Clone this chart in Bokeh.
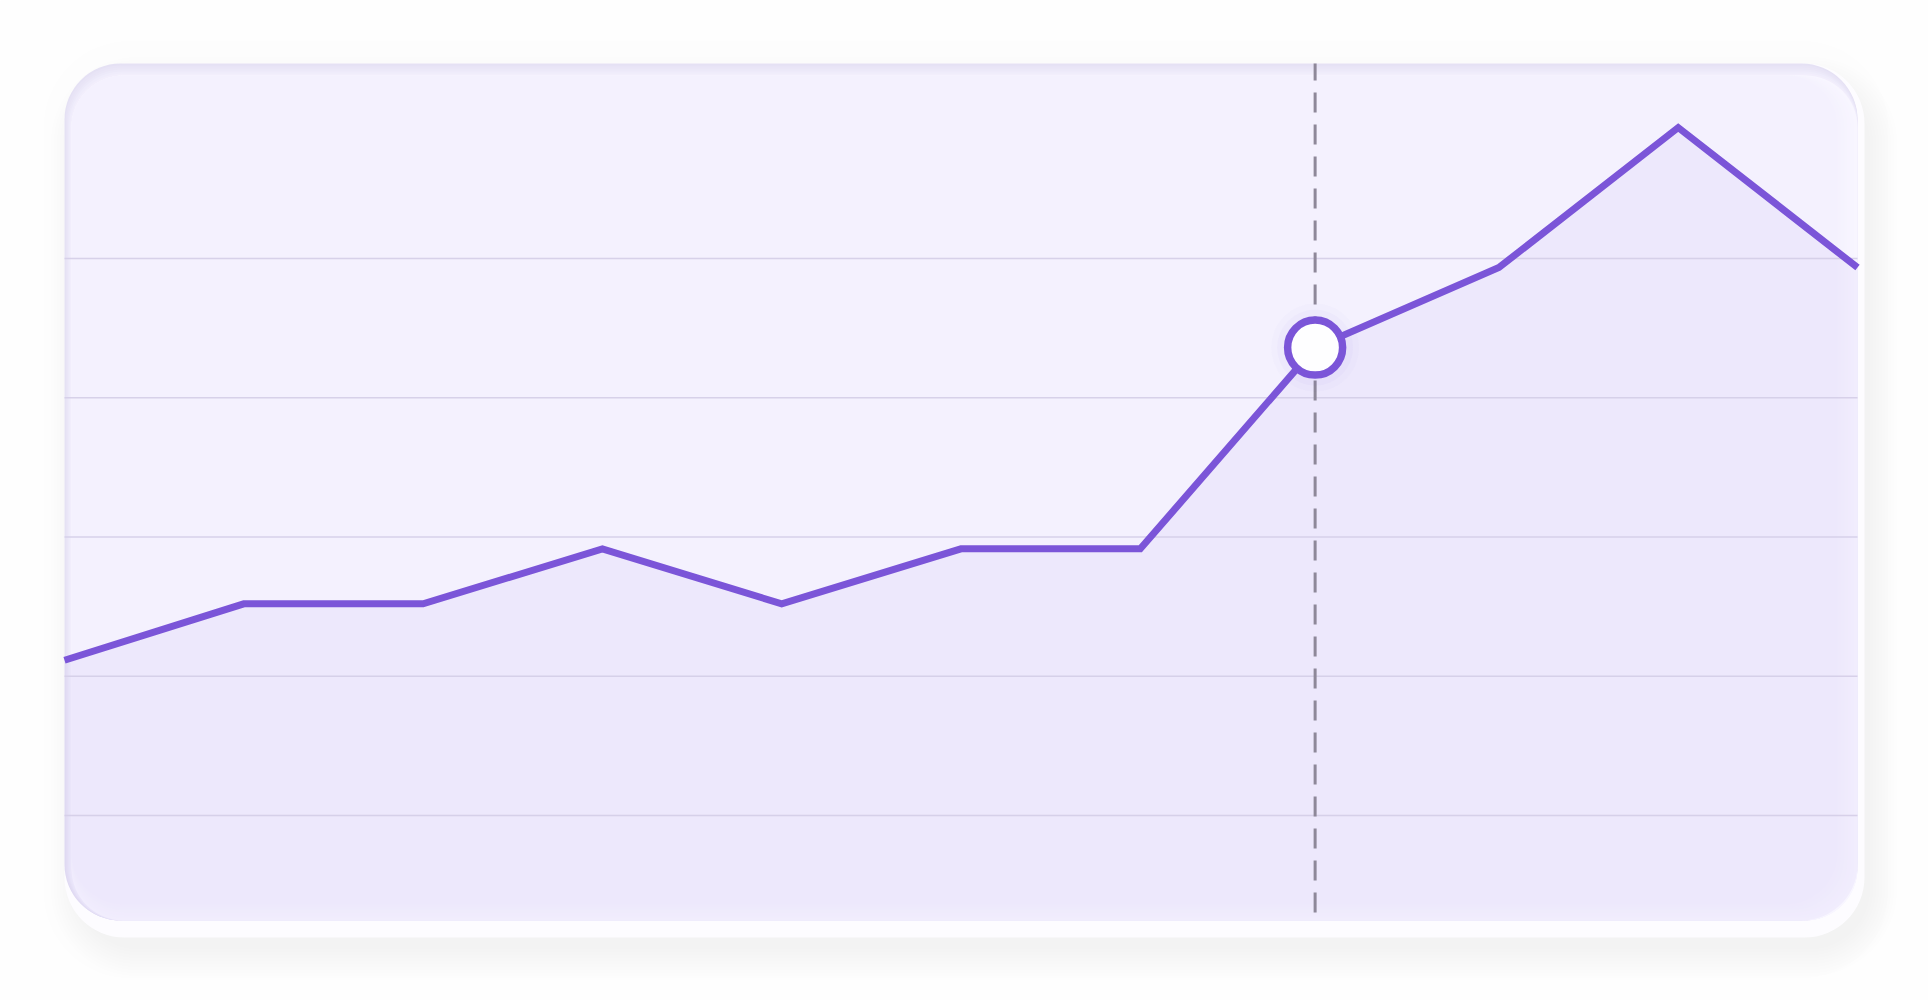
import numpy as np
from bokeh.plotting import figure
from bokeh.models import BoxAnnotation, Range1d
from bokeh.embed import file_html
from bokeh.resources import INLINE

# ---------------- data ----------------
x_vals = [0, 1, 2, 3, 4, 5, 6, 6.975, 8, 9, 10]
values = [42.3, 50.4, 50.4, 58.3, 50.4, 58.3, 58.3, 87.2, 98.7, 118.8, 98.7]
grid_values = [20, 40, 60, 80, 100]
highlight_index = 7

# ---------------- styling ----------------
LINE = "#7b55d8"
PAGE = "#fefefe"
CARD = "#fdfcff"
PANEL = (244, 241, 254)
EDGE_DARK = (229, 225, 244)
EDGE_LIGHT = (248, 246, 255)
GRID = "#d5cfe8"
DASH = "#8e8899"

W, H = 1928, 1000
KX = (1857 - 64) / 10.0
KY = (815 - 258) / 80.0
X0 = -64 / KX
X1 = X0 + W / KX
Y1 = 100 + 258 / KY
Y0 = Y1 - H / KY


def X(px):
    return X0 + px / KX


def Y(py):
    return Y1 - py / KY


def hexc(c):
    return "#%02x%02x%02x" % tuple(int(round(v)) for v in c)


def mix(a, b, t):
    return tuple(a[i] + (b[i] - a[i]) * t for i in range(3))


p = figure(width=W, height=H, x_range=Range1d(X0, X1), y_range=Range1d(Y0, Y1),
           output_backend="svg", toolbar_location=None, min_border=0,
           x_axis_location=None, y_axis_location=None)
p.grid.visible = False
p.outline_line_color = None
p.background_fill_color = PAGE
p.border_fill_color = PAGE


def rbox(l, t, r, b, color, alpha=1.0, radius=56):
    box = BoxAnnotation(left=X(l), right=X(r), top=Y(t), bottom=Y(b),
                        fill_color=color, fill_alpha=alpha, line_color=None,
                        border_radius=int(round(radius)), level="underlay")
    p.add_layout(box)
    return box


# panel geometry (page px)
PL, PT, PR, PB = 64, 63, 1857, 920
CL, CT, CR, CB = 64, 63, 1864, 937
RAD = 56

# faint outer halo
rbox(43, 40, 1888, 978, "#000000", 0.005, 86)
# drop shadow
for i in range(10):
    e = 3 * i
    rbox(CL + 13 - e, CT + 20 - e, CR + 6 + e, CB + 12 + e, "#000000", 0.0055, 60 + e)
# white card
rbox(CL, CT, CR, CB, CARD, 1.0, 60)

# panel with inset shading: top/left darker, bottom/right lighter
steps = 6
TB, LB, BB, RB = 12, 7, 16, 20
for i in range(steps):
    t = i / steps
    rbox(PL + LB * t, PT + TB * t, PR, PB, hexc(mix(EDGE_DARK, PANEL, t)), 1.0, RAD - 4 * t)
rbox(PL + LB, PT + TB, PR, PB, hexc(EDGE_LIGHT), 1.0, RAD - 4)
for i in range(1, steps + 1):
    t = i / steps
    rbox(PL + LB, PT + TB, PR - RB * t, PB - BB * t, hexc(mix(EDGE_LIGHT, PANEL, t)), 1.0, RAD - 4)

# ---------------- area under the line (rounded bottom corners) ----------------
xs = list(np.array(x_vals, dtype=float))
ys = list(np.array(values, dtype=float))
ang = np.linspace(0, np.pi / 2, 16)
cxp, cyp = PR - RAD, PB - RAD
arc_br_x = [X(cxp + RAD * np.cos(a)) for a in ang]
arc_br_y = [Y(cyp + RAD * np.sin(a)) for a in ang]
ang2 = np.linspace(np.pi / 2, np.pi, 16)
cxp2 = PL + RAD
arc_bl_x = [X(cxp2 + RAD * np.cos(a)) for a in ang2]
arc_bl_y = [Y(cyp + RAD * np.sin(a)) for a in ang2]
area_x = xs + arc_br_x + arc_bl_x
area_y = ys + arc_br_y + arc_bl_y
p.patch(area_x, area_y, fill_color=LINE, fill_alpha=0.055, line_color=None)

# grid lines
p.segment(x0=[x_vals[0]] * len(grid_values), x1=[x_vals[-1]] * len(grid_values),
          y0=grid_values, y1=grid_values, line_color=GRID, line_width=1.6, line_alpha=0.95)

# vertical dashed guide at highlighted point
xh = x_vals[highlight_index]
yh = values[highlight_index]
p.segment(x0=[xh], x1=[xh], y0=[Y(912)], y1=[Y(PT)], line_color=DASH,
          line_width=3, line_dash="20 12")

# main line
p.line(x_vals, values, line_color=LINE, line_width=7, line_join="miter", line_cap="butt")

# marker glow + marker
for s, a in ((88, 0.018), (76, 0.03)):
    p.scatter([xh], [yh], size=s, fill_color=LINE, fill_alpha=a, line_color=None)
p.scatter([xh], [yh], size=55, fill_color="#fefeff", line_color=LINE, line_width=7.5)

open("out.html", "w").write(file_html(p, INLINE))
